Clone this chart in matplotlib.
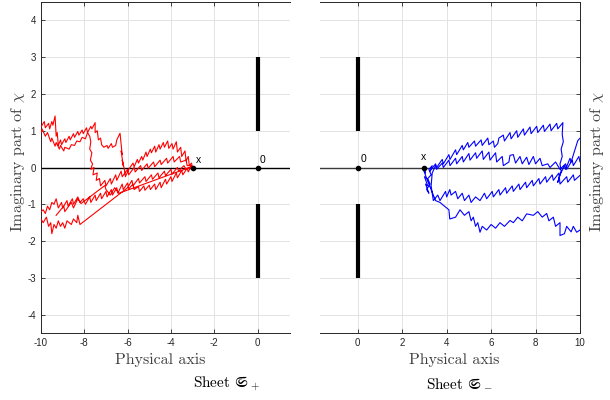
import numpy as np
import matplotlib
matplotlib.use('Agg')
import matplotlib.pyplot as plt

plt.rcParams['mathtext.fontset'] = 'cm'
plt.rcParams['axes.unicode_minus'] = False
plt.rcParams['font.family'] = ['Liberation Sans', 'DejaVu Sans']

# red path (sheet +)
red_x = [-3.0, -3.05, -3.15, -3.2, -3.3, -3.35, -3.5, -3.55, -3.7, -3.75, -3.9, -3.95, -4.1, -4.15, -4.3, -4.35,
         -4.5, -4.55, -4.7, -4.75, -4.9, -4.95, -5.1, -5.15, -5.3, -5.35, -5.5, -5.55, -5.7, -5.75, -5.95,
         -6.1, -6.15, -6.25, -6.2, -6.3, -6.25, -6.35, -6.5, -6.55, -6.7, -6.75, -6.9, -6.95, -7.1, -7.2,
         -7.25, -7.35, -7.4, -7.5, -7.5,
         -7.65, -7.7, -7.85, -7.9, -8.05, -8.1, -8.25, -8.3, -8.45, -8.5, -8.65, -8.7, -8.85, -8.9, -9.05,
         -9.1, -9.2, -9.25, -9.3, -9.35, -9.45, -9.5, -9.6, -9.65, -9.8, -9.85, -10.0, -10.3,
         -10.3, -10.0, -9.95, -9.8, -9.7, -9.55, -9.5, -9.35, -9.3, -9.15, -9.1, -8.95, -8.9, -8.7, -8.6,
         -8.45, -8.35, -8.2, -8.1, -7.95, -7.85, -7.75, -7.7, -7.75, -7.65, -7.72, -7.62, -7.7, -7.55, -7.6,
         -7.4, -7.45, -7.3, -7.25,
         -7.05, -7.0, -6.8, -6.75, -6.55, -6.5, -6.3, -6.25, -6.0, -5.95, -5.7, -5.65, -5.4, -5.35, -5.1,
         -5.05, -4.8, -4.75, -4.5, -4.45, -4.2, -4.15, -3.9, -3.85, -3.6, -3.55, -3.3, -3.25, -3.05,
         -3.2, -3.25, -3.45, -3.5, -3.7, -3.75, -3.95, -4.0, -4.2, -4.25, -4.45, -4.5, -4.7, -4.75, -4.95,
         -5.0, -5.2, -5.25, -5.45, -5.5, -5.7, -5.75, -5.95, -6.0, -6.2, -6.25, -6.45, -6.5, -6.7, -6.75,
         -6.95, -7.0, -7.2, -7.25, -7.45, -7.5, -7.7, -7.75, -7.95, -8.05,
         -8.2, -8.3, -8.5, -8.55, -8.75, -8.8, -9.0, -9.05, -9.2, -9.3, -9.4, -9.5, -9.6, -9.7, -9.8, -9.9,
         -10.3,
         -10.3, -10.0, -9.9, -9.75, -9.65, -9.55, -9.5, -9.4, -9.3, -9.2, -9.1, -9.0, -8.9, -8.8, -8.6,
         -8.5, -8.35, -8.3, -8.2, -6.0,
         -5.8, -5.75, -5.5, -5.45, -5.2, -5.15, -4.9, -4.85, -4.6, -4.55, -4.3, -4.25, -4.0, -3.95, -3.7,
         -3.65, -3.4, -3.3, -3.05,
         -6.4, -6.6, -6.8, -7.0, -7.05, -8.15, -8.3, -8.5, -8.6, -8.9, -8.95, -9.3]
red_y = [0.0, 0.12, 0.05, 0.3, 0.18, 0.45, 0.3, 0.55, 0.42, 0.7, 0.5, 0.65, 0.52, 0.72, 0.55, 0.68,
         0.5, 0.62, 0.42, 0.58, 0.4, 0.5, 0.3, 0.42, 0.2, 0.3, 0.12, 0.22, 0.02, 0.12, -0.05,
         -0.25, -0.05, 0.2, 0.05, 0.45, 0.35, 0.93, 0.75, 0.6, 0.55, 0.65, 0.52, 0.6, 0.55, 0.62,
         0.8, 0.75, 1.0, 0.95, 1.22,
         1.05, 1.12, 0.95, 1.08, 0.92, 1.02, 0.88, 0.98, 0.82, 0.92, 0.75, 0.85, 0.68, 0.78, 0.62,
         0.75, 0.6, 0.95, 0.85, 1.4, 1.15, 1.25, 1.05, 1.2, 1.08, 1.25, 1.1, 1.2,
         1.0, 0.95, 1.05, 0.85, 0.95, 0.7, 0.8, 0.58, 0.68, 0.5, 0.6, 0.45, 0.55, 0.5, 0.62,
         0.6, 0.72, 0.7, 0.82, 0.78, 0.95, 0.85, 0.7, 0.5, 0.4, 0.2, 0.1, -0.05, 0.0, -0.2,
         -0.15, -0.35, -0.3, -0.5,
         -0.35, -0.5, -0.3, -0.45, -0.2, -0.35, -0.1, -0.25, -0.05, -0.2, 0.0, -0.12, 0.05, -0.08, 0.1,
         -0.02, 0.15, 0.02, 0.2, 0.08, 0.25, 0.12, 0.3, 0.15, 0.3, 0.15, 0.2, 0.05, 0.05,
         -0.12, -0.02, -0.2, -0.08, -0.28, -0.15, -0.38, -0.25, -0.45, -0.32, -0.55, -0.4, -0.6, -0.45, -0.6,
         -0.48, -0.62, -0.5, -0.65, -0.52, -0.6, -0.45, -0.58, -0.42, -0.6, -0.45, -0.7, -0.55, -0.75, -0.6,
         -0.8, -0.65, -0.85, -0.7, -0.9, -0.75, -0.95, -0.8, -1.0, -0.85,
         -0.95, -0.8, -1.0, -0.85, -1.05, -0.9, -1.1, -0.95, -1.1, -0.85, -1.0, -0.95, -1.15, -1.05, -1.25, -1.15,
         -1.35,
         -1.55, -1.4, -1.5, -1.35, -1.6, -1.5, -1.8, -1.55, -1.65, -1.45, -1.6, -1.5, -1.65, -1.45, -1.55,
         -1.4, -1.5, -1.3, -1.55, -0.55,
         -0.35, -0.5, -0.3, -0.42, -0.25, -0.38, -0.2, -0.32, -0.15, -0.28, -0.1, -0.22, -0.05, -0.18, 0.0,
         -0.1, 0.05, -0.05, 0.02,
         -0.7, -0.55, -0.75, -0.6, -0.49, -0.98, -0.85, -1.1, -0.95, -1.2, -1.05, -1.3]

# blue path (sheet -)
blue_x = [3.0, 3.05, 2.95, 3.1, 3.0, 3.15, 3.05, 3.2, 3.1, 3.25, 3.15, 3.3, 3.2, 3.35, 3.25,
          3.5, 3.55, 3.8, 3.85, 4.1, 4.15, 4.4, 4.45, 4.7, 4.75, 4.95, 5.0, 5.25, 5.3, 5.55, 5.6,
          5.85, 5.9, 6.1, 6.15, 6.3, 6.35, 6.55, 6.6, 6.85, 6.9, 7.15, 7.2, 7.45, 7.5, 7.75, 7.8,
          8.05, 8.1, 8.35, 8.4, 8.65, 8.7, 8.95, 9.0, 9.23, 9.2, 9.25, 9.15, 9.2, 9.1, 9.15, 9.0,
          9.1, 9.3, 9.35, 9.55, 9.6, 9.9, 10.3,
          10.3, 10.0, 9.95, 9.7, 9.65, 9.4, 9.35, 9.1, 8.9, 8.65, 8.55, 8.3, 8.2, 8.0, 7.9, 7.7,
          7.6, 7.4, 7.3, 7.1, 7.0, 6.85, 6.8, 6.55, 6.5, 6.25, 6.2, 5.95, 5.9, 5.65, 5.6, 5.35,
          5.3, 5.05, 5.0, 4.75, 4.7, 4.45, 4.4, 4.15, 4.1, 3.85, 3.8, 3.55, 3.5, 3.35,
          3.3, 3.4, 3.6, 3.7, 3.95, 4.0, 4.14, 4.2, 4.4, 4.5, 4.7, 4.8, 5.0, 5.1, 5.3, 5.5,
          5.7, 5.8, 6.05, 6.1, 6.35, 6.4, 6.65, 6.7, 6.95, 7.0, 7.25, 7.3, 7.55, 7.6, 7.85, 7.9,
          8.15, 8.2, 8.45, 8.5, 8.75, 8.8, 9.05, 9.1, 9.4, 9.45, 9.7, 9.75, 10.3,
          10.3, 10.0, 9.85, 9.7, 9.6, 9.4, 9.3, 9.1, 9.1, 8.9, 8.8, 8.6, 8.5, 8.3, 8.1, 7.9,
          7.6, 7.4, 7.2, 7.0, 6.85, 6.6, 6.4, 6.2, 6.0, 5.8, 5.6, 5.5, 5.4, 5.3, 5.2, 5.1,
          5.0, 4.8, 4.6, 4.4, 4.14, 4.1, 3.9, 3.7, 3.5, 3.3, 3.1]
blue_y = [0.0, -0.15, -0.05, -0.3, -0.25, -0.5, -0.45, -0.7, -0.6, -0.45, -0.3, -0.2, -0.05, 0.05, -0.1,
          0.1, 0.0, 0.22, 0.1, 0.35, 0.22, 0.48, 0.35, 0.6, 0.48, 0.68, 0.55, 0.72, 0.58, 0.75, 0.6,
          0.8, 0.62, 0.72, 0.55, 0.65, 0.8, 0.88, 0.72, 0.95, 0.78, 1.0, 0.82, 1.05, 0.88, 1.1, 0.92,
          1.12, 0.95, 1.15, 0.98, 1.18, 1.0, 1.2, 1.05, 1.22, 0.9, 0.7, 0.5, 0.3, 0.1, -0.1, -0.4,
          -0.2, 0.05, -0.05, 0.25, 0.15, 0.73, 1.0,
          0.3, 0.15, 0.3, 0.05, 0.2, -0.05, 0.1, -0.05, 0.15, 0.0, 0.1, 0.05, 0.25, 0.1, 0.3, 0.08,
          0.28, 0.1, 0.3, 0.12, 0.35, 0.33, 0.15, 0.05, 0.3, 0.15, 0.4, 0.2, 0.42, 0.22, 0.45, 0.25,
          0.4, 0.2, 0.38, 0.15, 0.3, 0.1, 0.25, 0.05, 0.2, 0.0, 0.12, -0.05, 0.05, -0.15,
          -0.5, -0.9, -0.75, -0.9, -0.65, -0.8, -0.6, -0.75, -0.65, -0.85, -0.7, -0.9, -0.75, -0.95, -0.8, -0.9,
          -0.7, -0.85, -0.65, -0.8, -0.6, -0.75, -0.55, -0.7, -0.5, -0.65, -0.45, -0.6, -0.4, -0.55, -0.35, -0.5,
          -0.3, -0.45, -0.25, -0.4, -0.2, -0.35, -0.15, -0.45, -0.25, -0.4, -0.2, -0.35, -0.05,
          -1.5, -1.7, -1.76, -1.6, -1.75, -1.6, -1.8, -1.85, -1.5, -1.6, -1.35, -1.45, -1.25, -1.35, -1.2, -1.3,
          -1.26, -1.45, -1.35, -1.5, -1.44, -1.6, -1.5, -1.65, -1.55, -1.7, -1.6, -1.76, -1.5, -1.6, -1.35, -1.45,
          -1.2, -1.3, -1.15, -1.35, -1.4, -1.15, -1.05, -0.95, -0.9, -0.6, -0.3]

cut_upper = [1, 3]
cut_lower = [-3, -1]
yticks = [-4, -3, -2, -1, 0, 1, 2, 3, 4]

fig = plt.figure(figsize=(6.1, 4.0), dpi=100)
ax1 = fig.add_axes([41/610, 1-333/400, 249/610, 331/400])
ax2 = fig.add_axes([320/610, 1-333/400, 260/610, 331/400])

dark = '#262626'
for ax in (ax1, ax2):
    ax.set_ylim(-4.5, 4.5)
    ax.set_yticks(yticks)
    ax.grid(True, color='#e3e3e3', lw=0.7)
    ax.set_axisbelow(True)
    for s in ax.spines.values():
        s.set_color(dark)
        s.set_linewidth(0.7)
    ax.tick_params(direction='in', length=3, width=0.6, color=dark,
                   labelsize=7, labelcolor=dark, top=True)

ax1.set_xlim(-10, 1.5)
ax1.set_xticks([-10, -8, -6, -4, -2, 0])
ax1.spines['right'].set_visible(False)
ax1.tick_params(right=False)

ax2.set_xlim(-1.7, 10)
ax2.set_xticks([0, 2, 4, 6, 8, 10])
ax2.spines['left'].set_visible(False)
ax2.tick_params(left=False, right=True, labelleft=False)

# left sheet
ax1.axhline(0, color='k', lw=1.0, zorder=2)
ax1.plot(red_x, red_y, color='#ff0000', lw=0.8, zorder=3)
ax1.plot([0, 0], cut_upper, color='k', lw=3, solid_capstyle='butt')
ax1.plot([0, 0], cut_lower, color='k', lw=3, solid_capstyle='butt')
ax1.plot([0, red_x[0]], [0, 0], 'o', color='k', ms=3, zorder=4)
ax1.text(0.1, 0.12, '0', fontsize=7.5)
ax1.text(-2.85, 0.12, 'x', fontsize=7.5)

# right sheet
ax2.axhline(0, color='#3a3a3a', lw=1.0, zorder=2)
ax2.plot(blue_x, blue_y, color='#0000ff', lw=0.8, zorder=3)
ax2.plot([0, 0], cut_upper, color='k', lw=3, solid_capstyle='butt')
ax2.plot([0, 0], cut_lower, color='k', lw=3, solid_capstyle='butt')
ax2.plot([0, blue_x[0]], [0, 0], 'o', color='k', ms=3, zorder=4)
ax2.text(0.15, 0.15, '0', fontsize=7.5)
ax2.text(2.85, 0.2, 'x', fontsize=7.5)

lab = dict(fontfamily='cmr10', fontsize=11.5, color='#404040', ha='center', va='center')
fig.text(18/610, 1-162/400, r'Imaginary part of $\chi$', rotation=90, **lab)
fig.text(597/610, 1-162/400, r'Imaginary part of $\chi$', rotation=90, **lab)
fig.text(160/610, 1-360/400, 'Physical axis', **lab)
fig.text(454/610, 1-360/400, 'Physical axis', **lab)

sheet = dict(fontfamily='cmr10', fontsize=11, color='k', ha='center', va='center')
fig.text(226/610, 1-384/400, r'Sheet $\mathfrak{S}_+$', **sheet)
fig.text(459/610, 1-384/400, r'Sheet $\mathfrak{S}_-$', **sheet)

fig.savefig('out.png', dpi=100)
